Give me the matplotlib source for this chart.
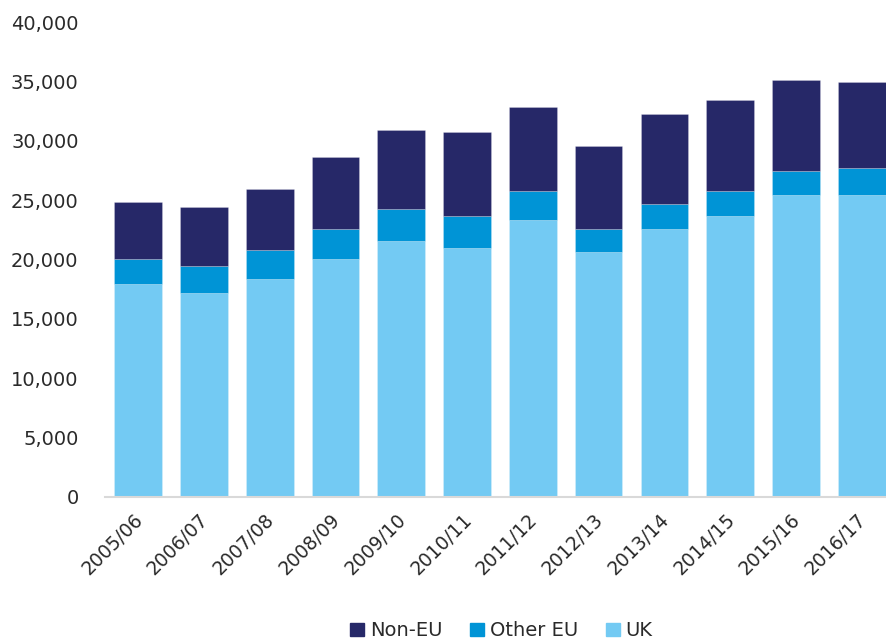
import matplotlib
matplotlib.use("Agg")
import matplotlib.pyplot as plt
import matplotlib.transforms as mtransforms
from matplotlib.patches import Patch
import numpy as np

years = ["2005/06", "2006/07", "2007/08", "2008/09", "2009/10", "2010/11",
         "2011/12", "2012/13", "2013/14", "2014/15", "2015/16", "2016/17"]
uk = [17950, 17200, 18330, 20040, 21590, 21010, 23330, 20630, 22540, 23660, 25400, 25400]
other_eu = [2090, 2250, 2470, 2500, 2660, 2650, 2440, 1910, 2110, 2110, 2080, 2280]
non_eu = [4780, 4970, 5140, 6060, 6650, 7050, 7050, 7050, 7600, 7660, 7640, 7240]
yticks = [0, 5000, 10000, 15000, 20000, 25000, 30000, 35000, 40000]

c_uk = "#73CAF3"
c_eu = "#0094D6"
c_non = "#262868"
txt = "#2a2a2a"

fig = plt.figure(figsize=(8.86, 6.41), dpi=100)
ax = fig.add_axes([105/886, (641-497)/641, 1 - 105/886, (497-22)/641])

x = np.arange(len(years))
w = 0.725
edge = (1, 1, 1, 0.25)
ax.bar(x, uk, w, color=c_uk, edgecolor=edge, linewidth=0.6, label="UK")
ax.bar(x, other_eu, w, bottom=uk, color=c_eu, edgecolor=edge, linewidth=0.6, label="Other EU")
bottom2 = [a + b for a, b in zip(uk, other_eu)]
ax.bar(x, non_eu, w, bottom=bottom2, color=c_non, edgecolor=edge, linewidth=0.6, label="Non-EU")

ax.set_xlim(-0.505, 11.37)
ax.set_ylim(0, 40000)
ax.set_yticks(yticks)
ax.set_yticklabels([f"{v:,}" for v in yticks])
ax.set_xticks(x)

for s in ["top", "right", "left"]:
    ax.spines[s].set_visible(False)
ax.spines["bottom"].set_color("#d9d9d9")
ax.spines["bottom"].set_linewidth(1.5)
ax.tick_params(axis="y", length=0, labelsize=14, colors=txt, pad=19)
ax.tick_params(axis="x", length=0, colors=txt, pad=6)

ax.set_xticklabels(years, rotation=45, ha="right", va="top", rotation_mode="anchor", fontsize=13.5)
offset = mtransforms.ScaledTranslation(-5/100, -5/100, fig.dpi_scale_trans)
for lbl in ax.get_xticklabels():
    lbl.set_transform(lbl.get_transform() + offset)

handles = [Patch(color=c_non, label="Non-EU"),
           Patch(color=c_eu, label="Other EU"),
           Patch(color=c_uk, label="UK")]
fig.legend(handles=handles, loc="center", bbox_to_anchor=(0.566, 0.016), ncol=3,
           frameon=False, fontsize=14, handlelength=0.7, handleheight=0.7,
           handletextpad=0.3, columnspacing=1.45, labelcolor=txt)

fig.savefig("out.png", dpi=100)
